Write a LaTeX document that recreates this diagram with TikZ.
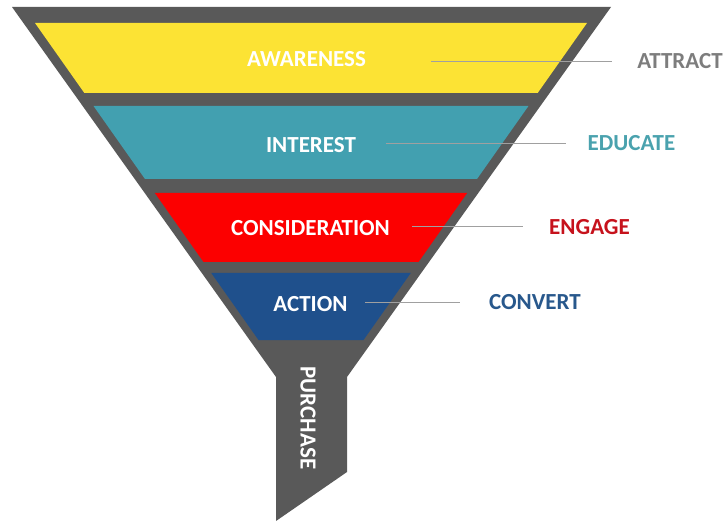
\documentclass[tikz,border=0pt]{standalone}
\usepackage{fontspec}
\setmainfont{Carlito}
\definecolor{funnelgray}{RGB}{89,89,89}
\definecolor{awareyellow}{RGB}{252,227,52}
\definecolor{interestteal}{RGB}{66,160,176}
\definecolor{considerred}{RGB}{252,0,0}
\definecolor{actionblue}{RGB}{31,80,140}
\definecolor{attractgray}{RGB}{125,125,125}
\definecolor{educateteal}{RGB}{74,162,174}
\definecolor{engagered}{RGB}{198,18,28}
\definecolor{convertblue}{RGB}{40,88,140}
\definecolor{linkgray}{RGB}{160,160,160}
\begin{document}
\begin{tikzpicture}[x=1pt, y=-1pt,
    lbl/.style={font=\bfseries\fontsize{23}{28}\selectfont},
    stage/.style={lbl, text=white},
    link/.style={draw=linkgray, line width=1pt, shorten >=18pt}]
    \useasboundingbox(0, 0)rectangle(728, 521);
    \fill[funnelgray](12, 7)--(611, 7)--(347, 377)--(347, 472)--(276, 521)--(276, 377)--cycle;
    \foreach \ya/\yb/\col in {23/93/awareyellow, 106/179/interestteal, 193/262/considerred, 273/340/actionblue}
        \fill[\col]({35+.705*(\ya-23)}, \ya)--({587-.705*(\ya-23)}, \ya)--({587-.705*(\yb-23)}, \yb)--({35+.705*(\yb-23)}, \yb)--cycle;
    \node[stage](aware)at(306.5, 59){AWARENESS};
    \node[stage](interest)at(311, 145){INTEREST};
    \node[stage](consider)at(310.5, 228){CONSIDERATION};
    \node[stage](action)at(310.5, 304.5){ACTION};
    \node[stage, rotate=-90](purchase)at(308, 418){PURCHASE};
    \node[lbl, text=attractgray](attract)at(680, 61.5){ATTRACT};
    \node[lbl, text=educateteal](educate)at(631.5, 143.5){EDUCATE};
    \node[lbl, text=engagered](engage)at(589.5, 227){ENGAGE};
    \node[lbl, text=convertblue](convert)at(535, 302.5){CONVERT};
    \coordinate(attract-in)at(431, 61.5);
    \coordinate(educate-in)at(386, 143.5);
    \coordinate(engage-in)at(412, 227);
    \coordinate(convert-in)at(365, 302.5);
    \draw[link, shorten >=22pt](attract-in)--(attract.west);
    \draw[link](educate-in)--(educate.west);
    \draw[link, shorten >=23pt](engage-in)--(engage.west);
    \draw[link, shorten >=26pt](convert-in)--(convert.west);
\end{tikzpicture}
\end{document}
